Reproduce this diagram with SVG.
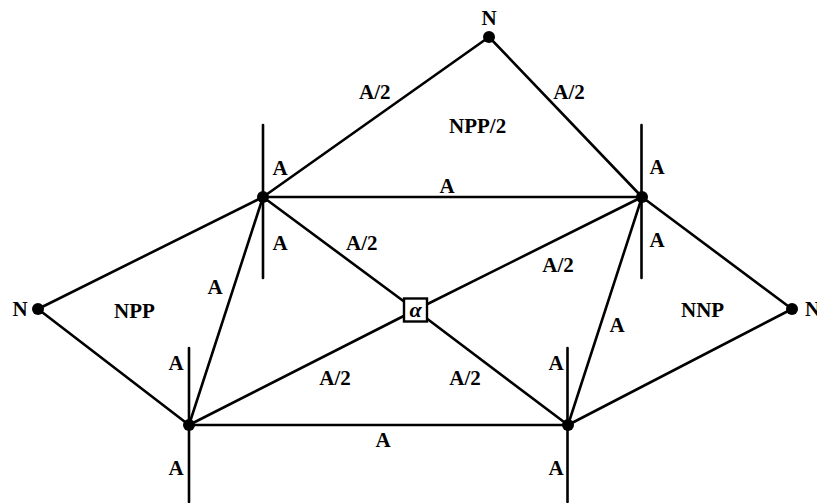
<svg xmlns="http://www.w3.org/2000/svg" width="817" height="503" viewBox="0 0 817 503">
<style>
.e{stroke:#000;stroke-width:2.6;fill:none;stroke-linecap:round}
.d{fill:#000}
.t{font-family:"Liberation Serif","Times New Roman",serif;font-weight:bold;font-size:21px;fill:#000}
.m{text-anchor:middle}
</style>
<rect width="817" height="503" fill="#fff"/>
<g id="connectors">
<line class="e" x1="489" y1="37" x2="263" y2="197"/>
<line class="e" x1="489" y1="37" x2="642" y2="197"/>
<line class="e" x1="263" y1="197" x2="642" y2="197"/>
<line class="e" x1="38" y1="309" x2="263" y2="197"/>
<line class="e" x1="38" y1="309" x2="189" y2="425"/>
<line class="e" x1="263" y1="197" x2="189" y2="425"/>
<line class="e" x1="263" y1="197" x2="415.5" y2="310"/>
<line class="e" x1="642" y1="197" x2="415.5" y2="310"/>
<line class="e" x1="189" y1="425" x2="415.5" y2="310"/>
<line class="e" x1="568" y1="425" x2="415.5" y2="310"/>
<line class="e" x1="642" y1="197" x2="568" y2="425"/>
<line class="e" x1="189" y1="425" x2="568" y2="425"/>
<line class="e" x1="642" y1="197" x2="792" y2="309"/>
<line class="e" x1="568" y1="425" x2="792" y2="309"/>
<line class="e" x1="263" y1="125" x2="263" y2="278"/>
<line class="e" x1="641.5" y1="125" x2="641.5" y2="278"/>
<line class="e" x1="189" y1="348" x2="189" y2="502"/>
<line class="e" x1="567.5" y1="348" x2="567.5" y2="502"/>
</g>
<g id="nTop"><circle class="d" cx="489" cy="37" r="6"/><text class="t m" x="489" y="25">N</text></g>
<g id="nLeft"><circle class="d" cx="38" cy="309" r="6"/><text class="t m" x="20" y="316">N</text></g>
<g id="nRight"><circle class="d" cx="792" cy="309" r="6"/><text class="t" x="805" y="316">N</text></g>
<g id="ul"><circle class="d" cx="263" cy="197" r="6"/></g>
<g id="ur"><circle class="d" cx="642" cy="197" r="6"/></g>
<g id="ll"><circle class="d" cx="189" cy="425" r="6"/></g>
<g id="lr"><circle class="d" cx="568" cy="425" r="6"/></g>
<g id="alpha"><rect x="404" y="298.5" width="23" height="23" fill="#fff" stroke="#000" stroke-width="2.4"/><text x="415.5" y="317" text-anchor="middle" font-family="Liberation Serif,serif" font-style="italic" font-weight="bold" font-size="22">α</text></g>
<g id="labels">
<text class="t" x="359" y="99">A/2</text>
<text class="t m" x="569" y="99">A/2</text>
<text class="t" x="449" y="133">NPP/2</text>
<text class="t m" x="280" y="175">A</text>
<text class="t m" x="280" y="250">A</text>
<text class="t m" x="657" y="174">A</text>
<text class="t m" x="657" y="247">A</text>
<text class="t m" x="447" y="193">A</text>
<text class="t" x="346" y="250">A/2</text>
<text class="t m" x="558" y="272">A/2</text>
<text class="t m" x="215" y="294">A</text>
<text class="t" x="114" y="318">NPP</text>
<text class="t" x="681" y="317">NNP</text>
<text class="t m" x="617" y="332">A</text>
<text class="t m" x="335" y="385">A/2</text>
<text class="t m" x="465" y="385">A/2</text>
<text class="t m" x="176" y="370">A</text>
<text class="t m" x="176" y="475">A</text>
<text class="t m" x="556" y="370">A</text>
<text class="t m" x="556" y="475">A</text>
<text class="t m" x="383" y="447">A</text>
</g>
</svg>
